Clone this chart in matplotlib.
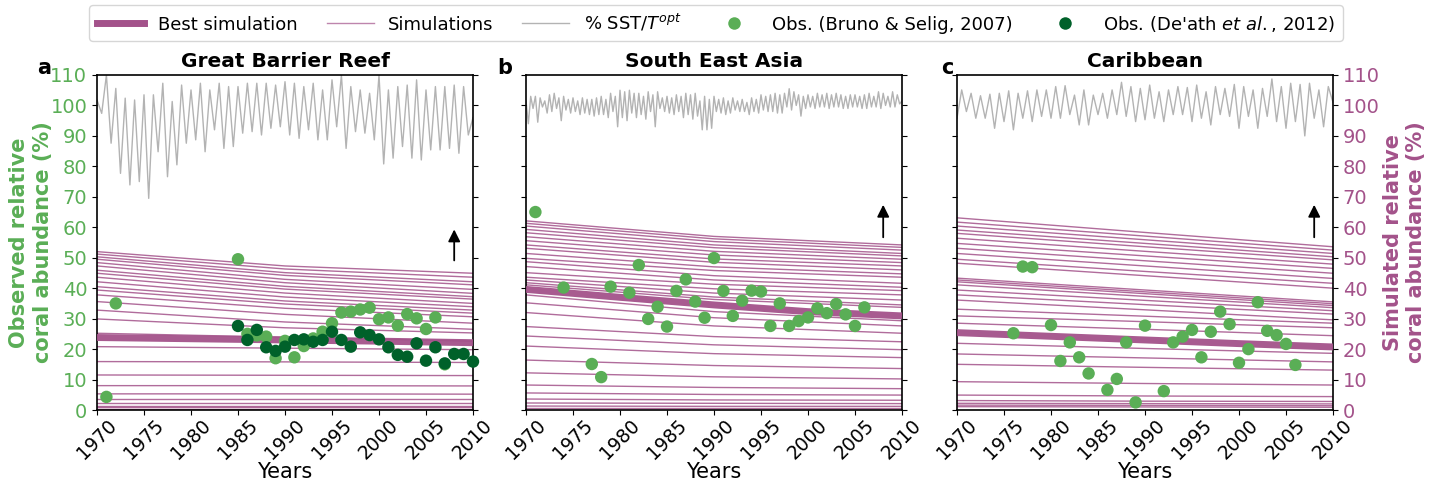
import numpy as np
import matplotlib
matplotlib.use("Agg")
import matplotlib.pyplot as plt
from matplotlib.lines import Line2D

# colours
GREEN_L = '#5aae56'
GREEN_D = '#00612a'
PURPLE = '#a3528a'
GREY = '#b3b3b3'

titles = ['Great Barrier Reef', 'South East Asia', 'Caribbean']
letters = ['a', 'b', 'c']

# ---- observations (year, % cover) ----
bruno_gbr_years = [1971, 1972, 1985, 1986, 1987, 1988, 1989, 1990, 1991, 1992, 1993, 1994, 1995,
                   1996, 1997, 1998, 1999, 2000, 2001, 2002, 2003, 2004, 2005, 2006, 2007]
bruno_gbr_vals = [4.3, 35.0, 49.5, 25.0, 24.5, 24.1, 17.0, 22.7, 17.3, 21.0, 23.5, 25.7, 28.5,
                  32.0, 32.3, 33.0, 33.6, 29.8, 30.4, 27.7, 31.5, 30.1, 26.6, 30.4, 15.0]
death_gbr_years = list(range(1985, 2011))
death_gbr_vals = [27.6, 23.0, 26.3, 20.6, 19.4, 20.8, 23.0, 23.2, 22.4, 23.0, 25.7, 23.0, 20.8,
                  25.5, 24.6, 23.2, 20.6, 18.1, 17.5, 21.9, 16.2, 20.6, 15.3, 18.4, 18.4, 15.9]

bruno_sea_years = [1971, 1974, 1977, 1978, 1979, 1981, 1982, 1983, 1984, 1985, 1986, 1987, 1988,
                   1989, 1990, 1991, 1992, 1993, 1994, 1995, 1996, 1997, 1998, 1999, 2000, 2001,
                   2002, 2003, 2004, 2005, 2006]
bruno_sea_vals = [65.0, 40.2, 15.1, 10.8, 40.5, 38.5, 47.6, 29.9, 33.9, 27.4, 39.1, 42.9, 35.6,
                  30.3, 49.9, 39.1, 30.9, 35.9, 39.2, 38.9, 27.6, 35.0, 27.6, 29.2, 30.4, 33.4,
                  31.8, 34.8, 31.4, 27.6, 33.7]

bruno_car_years = [1976, 1977, 1978, 1980, 1981, 1982, 1983, 1984, 1986, 1987, 1988, 1989, 1990,
                   1992, 1993, 1994, 1995, 1996, 1997, 1998, 1999, 2000, 2001, 2002, 2003, 2004,
                   2005, 2006]
bruno_car_vals = [25.2, 47.1, 46.9, 27.9, 16.1, 22.2, 17.3, 12.0, 6.6, 10.2, 22.2, 2.5, 27.7,
                  6.2, 22.2, 24.1, 26.3, 17.3, 25.7, 32.3, 28.2, 15.5, 20.0, 35.4, 26.0, 24.6,
                  21.7, 14.8]

# ---- simulations (values at 1970, 1990, 2010) ----
sim_years = [1970, 1990, 2010]
sim_gbr_1970 = [52.0, 51.2, 50.3, 49.5, 48.4, 47.3, 45.9, 44.9, 43.6, 42.1, 40.5, 39.4, 37.8, 35.6,
                32.8, 29.9, 25.2, 20.8, 15.9, 11.5, 8.0, 5.3, 3.5, 2.2, 1.4, 0.9, 0.4]
sim_gbr_1990 = [47.3, 46.3, 45.1, 44.2, 42.9, 41.8, 40.6, 39.7, 38.4, 37.1, 35.8, 34.8, 33.4, 31.4,
                28.9, 27.0, 23.9, 20.3, 15.8, 11.4, 8.0, 5.3, 3.5, 2.2, 1.4, 0.9, 0.4]
sim_gbr_2010 = [44.9, 43.6, 42.1, 41.1, 39.6, 38.3, 37.2, 36.4, 35.0, 33.9, 32.8, 31.8, 30.6, 28.5,
                26.5, 25.3, 22.6, 19.8, 15.6, 11.3, 7.9, 5.2, 3.5, 2.2, 1.4, 0.9, 0.4]

sim_sea_1970 = [62.1, 61.3, 60.4, 59.3, 58.2, 56.9, 55.6, 54.2, 53.1, 51.4, 49.8, 48.7, 47.1, 45.1,
                43.6, 42.7, 41.8, 41.1, 37.8, 35.2, 32.0, 27.4, 24.3, 21.0, 16.4, 12.2, 8.2, 5.6,
                3.6, 2.3, 1.3, 0.7]
sim_sea_1990 = [57.0, 56.2, 55.3, 54.2, 53.3, 52.1, 50.9, 49.6, 48.5, 47.0, 45.8, 44.1, 42.7, 41.3,
                39.8, 38.4, 37.1, 36.3, 32.3, 30.3, 27.6, 24.1, 21.4, 18.5, 14.6, 10.9, 7.4, 5.1,
                3.3, 2.2, 1.2, 0.7]
sim_sea_2010 = [54.2, 53.4, 52.5, 51.4, 50.6, 49.5, 48.4, 47.3, 46.0, 44.7, 43.6, 41.6, 40.3, 39.2,
                37.8, 36.1, 34.5, 33.7, 29.3, 27.6, 25.2, 22.4, 19.8, 17.2, 13.6, 10.2, 7.0, 4.9,
                3.2, 2.1, 1.2, 0.7]

sim_car_1970 = [63.1, 61.7, 60.4, 59.1, 58.0, 56.4, 54.7, 53.1, 51.4, 49.5, 48.2, 43.3, 42.7, 42.1,
                41.1, 39.4, 37.8, 36.1, 33.1, 30.9, 28.5, 21.9, 18.4, 15.0, 9.3, 4.9, 3.1, 2.2,
                1.6, 1.1]
sim_car_1990 = [58.3, 57.1, 55.9, 54.7, 53.6, 52.1, 50.6, 49.0, 47.3, 45.5, 44.1, 39.4, 38.8, 38.2,
                37.3, 36.0, 34.6, 32.9, 30.8, 29.0, 26.5, 20.2, 17.1, 14.0, 8.7, 4.6, 2.9, 2.1,
                1.5, 1.0]
sim_car_2010 = [53.6, 52.5, 51.4, 50.3, 49.3, 47.9, 46.5, 44.9, 43.2, 41.6, 40.0, 35.5, 34.9, 34.3,
                33.6, 32.6, 31.5, 29.6, 28.5, 27.0, 24.4, 18.6, 15.8, 13.1, 8.2, 4.4, 2.8, 2.0,
                1.4, 0.9]

best_years = [1970, 1980, 1990, 2000, 2010]
best_gbr = [23.8, 23.4, 23.0, 22.6, 22.1]
best_sea = [39.6, 37.0, 34.5, 32.3, 30.9]
best_car = [25.4, 24.2, 23.0, 21.8, 20.7]

# ---- % SST / Topt ----
# GBR: half-yearly, starting 1970.0
sst_gbr = [101.8,
           97.4, 110.0, 87.6, 105.6, 77.7, 102.4, 73.9, 101.8, 75.0, 103.5, 69.5, 103.5,
           84.8, 107.3, 76.6, 101.3, 80.5, 106.7, 87.6, 105.1, 88.7, 107.3, 84.8, 105.1,
           92.0, 107.3, 85.9, 106.2, 86.5, 106.2, 90.9, 107.3, 91.4, 107.3, 90.3, 107.3,
           92.5, 106.7, 93.0, 107.8, 90.3, 107.3, 89.2, 106.2, 92.0, 107.3, 88.7, 105.1,
           88.7, 108.4, 93.0, 110.0, 85.9, 106.2, 91.4, 105.1, 90.9, 104.0, 88.7, 110.0,
           80.8, 105.1, 82.7, 106.2, 86.5, 106.7, 82.7, 108.4, 82.1, 105.1, 85.4, 106.2,
           85.4, 106.2, 85.9, 106.7, 84.3, 106.2, 90.3, 96.0]
# South East Asia: quarterly, starting 1970.0
sst_sea = [101.5, 94.0, 103.0, 99.0, 103.0, 94.5, 102.5, 99.5, 101.5, 97.5, 103.5, 98.0,
           104.0, 99.0, 102.5, 95.0, 103.0, 98.5, 102.0, 97.5, 102.5, 98.0, 101.5, 97.0,
           102.5, 97.5, 102.0, 97.0, 102.0, 96.5, 102.5, 97.0, 103.0, 97.0, 102.0, 96.0,
           104.0, 98.0, 103.0, 93.0, 105.0, 96.0, 104.5, 95.0, 105.0, 97.5, 104.0, 96.0,
           104.0, 97.0, 103.0, 95.5, 104.5, 98.0, 103.5, 93.0, 104.5, 99.0, 102.5, 98.0,
           103.0, 97.5, 102.5, 97.0, 103.5, 98.0, 103.0, 96.0, 104.0, 97.0, 103.5, 95.5,
           104.0, 96.5, 101.5, 92.0, 103.0, 92.0, 102.0, 92.5, 103.0, 98.0, 102.0, 97.5,
           102.5, 97.0, 101.5, 97.5, 102.5, 98.5, 101.5, 98.0, 102.0, 98.0, 101.0, 97.0,
           102.5, 98.0, 102.0, 97.5, 103.5, 98.5, 103.0, 98.0, 103.5, 98.0, 104.0, 97.5,
           103.5, 97.5, 104.0, 99.5, 105.5, 98.5, 104.5, 100.0, 103.5, 96.5, 103.0, 99.0,
           103.5, 99.5, 103.0, 99.0, 104.0, 99.5, 103.5, 99.5, 104.0, 99.0, 103.5, 99.5,
           104.0, 99.5, 103.5, 99.0, 103.0, 99.0, 103.5, 99.5, 103.5, 99.5, 103.0, 99.0,
           103.5, 99.0, 104.0, 99.5, 103.0, 99.5, 104.5, 99.0, 104.0, 100.0, 103.0, 99.5,
           104.5, 99.5, 103.5, 100.5, 101.5]
# Caribbean: half-yearly, starting 1970.0
sst_car = [95.8, 105.1, 98.0, 104.0, 95.8, 103.2, 95.8, 103.7, 92.5, 104.0, 94.7, 104.8,
           92.0, 104.0, 95.8, 104.8, 94.7, 105.1, 96.4, 105.1, 95.8, 106.2, 95.8, 106.5,
           97.0, 103.4, 93.6, 105.1, 93.6, 103.4, 97.0, 104.0, 95.8, 105.1, 97.0, 107.6,
           96.4, 106.2, 94.7, 105.6, 95.3, 106.7, 95.8, 104.5, 94.7, 105.1, 97.0, 106.2,
           97.0, 105.9, 94.7, 106.7, 95.8, 104.5, 93.6, 106.2, 97.0, 105.6, 96.4, 106.9,
           92.5, 106.2, 96.4, 105.1, 92.5, 105.6, 96.4, 108.7, 94.7, 106.2, 92.5, 107.3,
           94.7, 106.9, 90.0, 107.3, 95.8, 105.1, 93.0, 106.2, 101.0]

panels = [
    dict(sst=sst_gbr, sst_step=0.5, sims=(sim_gbr_1970, sim_gbr_1990, sim_gbr_2010), best=best_gbr,
         obs=[(bruno_gbr_years, bruno_gbr_vals, GREEN_L), (death_gbr_years, death_gbr_vals, GREEN_D)],
         arrow=(2008, 48.2, 60.2)),
    dict(sst=sst_sea, sst_step=0.25, sims=(sim_sea_1970, sim_sea_1990, sim_sea_2010), best=best_sea,
         obs=[(bruno_sea_years, bruno_sea_vals, GREEN_L)],
         arrow=(2008, 55.8, 68.3)),
    dict(sst=sst_car, sst_step=0.5, sims=(sim_car_1970, sim_car_1990, sim_car_2010), best=best_car,
         obs=[(bruno_car_years, bruno_car_vals, GREEN_L)],
         arrow=(2008, 55.8, 68.3)),
]

fig = plt.figure(figsize=(14.32, 4.84), dpi=100)
W, H = 1432, 484
lefts = [97, 526, 957]
letter_x = [44, 505, 947]

for i, p in enumerate(panels):
    ax = fig.add_axes([lefts[i] / W, 1 - 410 / H, 376 / W, 335 / H])
    t = 1970 + p['sst_step'] * np.arange(len(p['sst']))
    ax.plot(t, p['sst'], color=GREY, lw=1, zorder=1)
    s1970, s1990, s2010 = p['sims']
    for a, b, c in zip(s1970, s1990, s2010):
        ax.plot(sim_years, [a, b, c], color=PURPLE, lw=1, alpha=0.85, zorder=2)
    ax.plot(best_years, p['best'], color=PURPLE, lw=5, alpha=0.95, zorder=3, solid_capstyle='butt')
    for yrs, vals, col in p['obs']:
        ax.scatter(yrs, vals, s=80, color=col, edgecolors='none', zorder=4, clip_on=False)
    x0, y0, y1 = p['arrow']
    ax.annotate('', xy=(x0, y1), xytext=(x0, y0),
                arrowprops=dict(arrowstyle='-|>', color='black', lw=1.3, mutation_scale=18))

    ax.set_xlim(1970, 2010)
    ax.set_ylim(0, 110)
    ax.set_xticks(range(1970, 2011, 5))
    ax.set_xticklabels([str(y) for y in range(1970, 2011, 5)], rotation=45, fontsize=13.5)
    ax.tick_params(axis='x', pad=1)
    ax.set_yticks(range(0, 111, 10))
    ax.tick_params(axis='y', left=True, right=True, labelleft=False, labelright=False, labelsize=14)
    ax.set_xlabel('Years', fontsize=15, labelpad=-1)
    ax.set_title(titles[i], fontsize=14.5, fontweight='bold')
    for sp in ax.spines.values():
        sp.set_linewidth(1.2)
    fig.text(letter_x[i] / W, 1 - 68 / H, letters[i], fontsize=15, fontweight='bold',
             ha='center', va='center')

    if i == 0:
        ax.tick_params(axis='y', labelleft=True, labelcolor=GREEN_L)
        ax.set_ylabel('Observed relative\ncoral abundance (%)', fontsize=15,
                      fontweight='bold', color=GREEN_L)
        ax.yaxis.set_label_coords(-0.118, 0.5)
    if i == 2:
        ax.tick_params(axis='y', labelright=True, labelcolor=PURPLE)
        ax.yaxis.set_label_position('right')
        ax.set_ylabel('Simulated relative\ncoral abundance (%)', fontsize=15,
                      fontweight='bold', color=PURPLE)
        ax.yaxis.set_label_coords(1.133, 0.5)

handles = [
    Line2D([], [], color=PURPLE, lw=5),
    Line2D([], [], color=PURPLE, lw=1, alpha=0.7),
    Line2D([], [], color=GREY, lw=1),
    Line2D([], [], color=GREEN_L, marker='o', ls='none', markersize=9, markeredgewidth=0),
    Line2D([], [], color=GREEN_D, marker='o', ls='none', markersize=9, markeredgewidth=0),
]
labels = ['Best simulation', 'Simulations', '% SST/$T^{opt}$',
          'Obs. (Bruno & Selig, 2007)', "Obs. (De'ath $et$ $al.$, 2012)"]
fig.legend(handles, labels, loc='upper center', bbox_to_anchor=(0.5, 1.0), ncol=5,
           fontsize=13, handlelength=2.6, columnspacing=1.6, borderaxespad=0.3)

fig.savefig('out.png', dpi=100)
